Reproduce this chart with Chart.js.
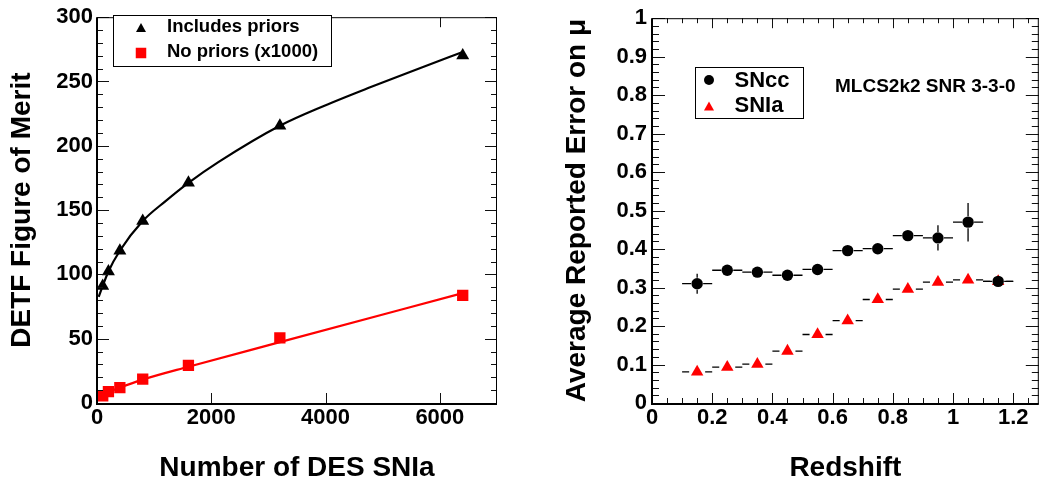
<!DOCTYPE html>
<html><head><meta charset="utf-8">
<script src="https://cdn.jsdelivr.net/npm/chart.js@4.4.0/dist/chart.umd.min.js"></script>
<style>
html,body{margin:0;padding:0;background:#fff;}
#wrap{position:relative;width:1046px;height:483px;overflow:hidden;background:#fff;}
#c1{position:absolute;left:0;top:0;}
#c2{position:absolute;left:545px;top:0;}
</style></head><body>
<div id="wrap"><canvas id="c1" width="545" height="483"></canvas><canvas id="c2" width="501" height="483"></canvas></div>
<script>
// ---------- Left panel data ----------
const nSNIa          = [100, 200, 400, 800, 1600, 3200, 6400];
const fomWithPriors  = [91.0, 102.2, 118.4, 141.5, 171.3, 215.6, 270.2];
const fomNoPriors    = [5.6, 8.8, 12.0, 18.5, 29.3, 50.6, 83.7];
const fitWithPriorsN = [30, 100, 200, 400, 800, 1200, 1600, 2130, 3200, 3970, 4780, 5660, 6400];
const fitWithPriorsY = [82.5, 91.0, 102.3, 118.4, 141.5, 157.0, 171.2, 187.5, 215.6, 231.0, 245.5, 260.5, 273.0];
const fitNoPriorsN   = [30, 100, 200, 400, 800, 1600, 3200, 6400];
const fitNoPriorsY   = [4.2, 6.0, 8.5, 12.0, 18.2, 28.2, 47.3, 85.4];
const leftXTicks     = [0, 2000, 4000, 6000];
const leftYTicks     = [0, 50, 100, 150, 200, 250, 300];
const leftLegend     = ['Includes priors', 'No priors (x1000)'];

// ---------- Right panel data ----------
const redshift     = [0.15, 0.25, 0.35, 0.45, 0.55, 0.65, 0.75, 0.85, 0.95, 1.05, 1.15];
const zHalfWidth   = [0.05, 0.05, 0.05, 0.05, 0.05, 0.05, 0.05, 0.05, 0.05, 0.05, 0.05];
const errSNcc      = [0.310, 0.345, 0.340, 0.332, 0.347, 0.396, 0.401, 0.435, 0.429, 0.470, 0.316];
const errSNccSig   = [0.026, 0.008, 0.008, 0.008, 0.008, 0.010, 0.010, 0.010, 0.033, 0.050, 0.008];
const errSNIa      = [0.081, 0.093, 0.101, 0.135, 0.178, 0.214, 0.269, 0.296, 0.314, 0.320, 0.316];
const errSNIaSig   = [0.004, 0.004, 0.004, 0.004, 0.004, 0.004, 0.004, 0.004, 0.004, 0.004, 0.004];
const rightXTicks  = [0, 0.2, 0.4, 0.6, 0.8, 1, 1.2];
const rightYTicks  = [0, 0.1, 0.2, 0.3, 0.4, 0.5, 0.6, 0.7, 0.8, 0.9, 1];
const rightLegend  = ['SNcc', 'SNIa'];
const rightLabel   = 'MLCS2k2 SNR 3-3-0';

const FAM = '"Liberation Sans", Arial, Helvetica, sans-serif';
const tickFont = {family: FAM, size: 22, weight: 'bold', lineHeight: 1.2};
const titleFont = {family: FAM, size: 28, weight: 'bold', lineHeight: 1};
const fmt = v => String(+(+v).toFixed(3));

// ROOT-style frame with inward ticks on all four sides
const rootFrame = {
  id: 'rootFrame',
  afterDatasetsDraw(chart, args, o) {
    const {ctx, chartArea: a, scales: {x, y}} = chart;
    ctx.save();
    ctx.strokeStyle = '#111';
    ctx.lineWidth = 1;
    ctx.beginPath();
    const isMaj = (v, m) => Math.abs(v / m - Math.round(v / m)) < 1e-6;
    for (let k = 0; ; k++) {
      const v = y.min + k * o.yMinor; if (v > y.max + 1e-9) break;
      const py = Math.round(y.getPixelForValue(v)) + 0.5;
      const L = isMaj(v, o.yMajor) ? o.yMajLen : o.yMinLen;
      ctx.moveTo(a.left, py); ctx.lineTo(a.left + L, py);
      ctx.moveTo(a.right, py); ctx.lineTo(a.right - L, py);
    }
    for (let k = 0; ; k++) {
      const v = x.min + k * o.xMinor; if (v > x.max + 1e-9) break;
      const px = Math.round(x.getPixelForValue(v)) + 0.5;
      const L = isMaj(v, o.xMajor) ? o.xMajLen : o.xMinLen;
      ctx.moveTo(px, a.bottom); ctx.lineTo(px, a.bottom - L);
      ctx.moveTo(px, a.top); ctx.lineTo(px, a.top + L);
    }
    ctx.stroke();
    ctx.strokeStyle = '#000';
    ctx.lineWidth = 1;
    ctx.beginPath();
    ctx.moveTo(a.left, a.top + 0.5); ctx.lineTo(a.right, a.top + 0.5);
    ctx.moveTo(a.right - 0.5, a.top); ctx.lineTo(a.right - 0.5, a.bottom);
    ctx.stroke();
    ctx.lineWidth = 2;
    ctx.beginPath();
    ctx.moveTo(a.left, a.top); ctx.lineTo(a.left, a.bottom + 1);
    ctx.lineTo(a.right, a.bottom + 1);
    ctx.stroke();
    ctx.restore();
  }
};

// Error bars (drawn under markers) with ROOT-like gap around marker
const errBars = {
  id: 'errBars',
  beforeDatasetsDraw(chart) {
    const {ctx, scales: {x, y}} = chart;
    ctx.save(); ctx.strokeStyle = '#000'; ctx.lineWidth = 1.3;
    chart.data.datasets.forEach(ds => {
      if (!ds.errY) return;
      ds.data.forEach((p, i) => {
        const px = x.getPixelForValue(p.x), py = y.getPixelForValue(p.y);
        const x0 = x.getPixelForValue(p.x - ds.errX[i]), x1 = x.getPixelForValue(p.x + ds.errX[i]);
        const y0 = y.getPixelForValue(p.y + ds.errY[i]), y1 = y.getPixelForValue(p.y - ds.errY[i]);
        const g = ds.errGap;
        ctx.beginPath();
        if (px - x0 > g) { ctx.moveTo(x0, py); ctx.lineTo(px - g, py); ctx.moveTo(px + g, py); ctx.lineTo(x1, py); }
        if (py - y0 > g) { ctx.moveTo(px, y0); ctx.lineTo(px, py - g); ctx.moveTo(px, py + g); ctx.lineTo(px, y1); }
        ctx.stroke();
      });
    });
    ctx.restore();
  }
};

function tri(ctx, cx, cy, w, color) {
  const h = w * 0.9;
  ctx.fillStyle = color; ctx.beginPath();
  ctx.moveTo(cx, cy - h / 2); ctx.lineTo(cx + w / 2, cy + h / 2); ctx.lineTo(cx - w / 2, cy + h / 2);
  ctx.closePath(); ctx.fill();
}

// In-frame legend boxes and label
const boxLegend = {
  id: 'boxLegend',
  afterDraw(chart, args, o) {
    const ctx = chart.ctx;
    ctx.save();
    const b = o.box;
    ctx.fillStyle = '#fff'; ctx.fillRect(b[0], b[1], b[2], b[3]);
    ctx.strokeStyle = '#000'; ctx.lineWidth = 1;
    ctx.strokeRect(b[0] + 0.5, b[1] + 0.5, b[2], b[3]);
    o.items.forEach(it => {
      if (it.marker === 'triangle') tri(ctx, it.mx, it.my, it.ms, it.color);
      else if (it.marker === 'rect') { ctx.fillStyle = it.color; ctx.fillRect(it.mx - it.ms / 2, it.my - it.ms / 2, it.ms, it.ms); }
      else { ctx.fillStyle = it.color; ctx.beginPath(); ctx.arc(it.mx, it.my, it.ms / 2, 0, Math.PI * 2); ctx.fill(); }
      ctx.fillStyle = '#000';
      ctx.font = 'bold ' + o.fontSize + 'px ' + FAM;
      ctx.textBaseline = 'middle'; ctx.textAlign = 'left';
      ctx.fillText(it.text, it.tx, it.ty);
    });
    if (o.extra) {
      ctx.font = 'bold ' + o.extra.size + 'px ' + FAM;
      ctx.textBaseline = 'middle';
      ctx.fillText(o.extra.text, o.extra.x, o.extra.y);
    }
    ctx.restore();
  }
};

function axis(min, max, ticksArr, title, tickPad, titlePad, fitKey, fitVal) {
  return {
    type: 'linear', min, max,
    afterFit: s => { s[fitKey] = fitVal; },
    afterBuildTicks: s => { s.ticks = ticksArr.map(v => ({value: v})); },
    grid: {display: false, drawTicks: false},
    border: {display: false},
    ticks: {padding: tickPad, font: tickFont, color: '#000', callback: fmt, maxRotation: 0, autoSkip: false},
    title: {display: true, text: title, font: titleFont, color: '#000', padding: titlePad}
  };
}

// ---------- Left chart ----------
new Chart(document.getElementById('c1'), {
  type: 'scatter',
  data: {
    datasets: [
      {label: leftLegend[0], data: nSNIa.map((n, i) => ({x: n, y: fomWithPriors[i]})),
       pointStyle: 'triangle', pointRadius: 7.5, backgroundColor: '#000', borderColor: '#000', borderWidth: 0},
      {label: leftLegend[1], data: nSNIa.map((n, i) => ({x: n, y: fomNoPriors[i]})),
       pointStyle: 'rect', pointRadius: 8, backgroundColor: '#ff0000', borderColor: '#ff0000', borderWidth: 0},
      {type: 'line', data: fitWithPriorsN.map((n, i) => ({x: n, y: fitWithPriorsY[i]})),
       borderColor: '#000', borderWidth: 2.2, pointRadius: 0, cubicInterpolationMode: 'monotone', fill: false},
      {type: 'line', data: fitNoPriorsN.map((n, i) => ({x: n, y: fitNoPriorsY[i]})),
       borderColor: '#ff0000', borderWidth: 2.2, pointRadius: 0, cubicInterpolationMode: 'monotone', fill: false}
    ]
  },
  options: {
    responsive: false, animation: false, devicePixelRatio: 1,
    layout: {padding: {left: 0, top: 15, right: 48, bottom: 0}},
    plugins: {
      legend: {display: false}, tooltip: {enabled: false},
      rootFrame: {xMinor: 2000, xMajor: 2000, yMinor: 10, yMajor: 50, xMajLen: 10, xMinLen: 5, yMajLen: 12, yMinLen: 6},
      boxLegend: {
        box: [113, 15, 218, 51], fontSize: 18.5,
        items: [
          {marker: 'triangle', mx: 141, my: 27.5, ms: 10, color: '#000', text: leftLegend[0], tx: 167, ty: 26.5},
          {marker: 'rect', mx: 141, my: 53, ms: 10.5, color: '#ff0000', text: leftLegend[1], tx: 167, ty: 52}
        ]
      }
    },
    scales: {
      x: axis(0, 7000, leftXTicks, 'Number of DES SNIa', 2, {top: 0, bottom: 1}, 'height', 80),
      y: axis(0, 300, leftYTicks, 'DETF Figure of Merit', 4, {top: 8, bottom: 0}, 'width', 97)
    }
  },
  plugins: [rootFrame, boxLegend]
});

// ---------- Right chart ----------
new Chart(document.getElementById('c2'), {
  type: 'scatter',
  data: {
    datasets: [
      {label: rightLegend[0], data: redshift.map((z, i) => ({x: z, y: errSNcc[i]})),
       errX: zHalfWidth, errY: errSNccSig, errGap: 6,
       pointStyle: 'circle', pointRadius: 5.7, backgroundColor: '#000', borderColor: '#000', borderWidth: 0},
      {label: rightLegend[1], data: redshift.map((z, i) => ({x: z, y: errSNIa[i]})),
       errX: zHalfWidth, errY: errSNIaSig, errGap: 8,
       pointStyle: 'triangle', pointRadius: 7.2, backgroundColor: '#ff0000', borderColor: '#ff0000', borderWidth: 0}
    ]
  },
  options: {
    responsive: false, animation: false, devicePixelRatio: 1,
    layout: {padding: {left: 0, top: 15, right: 1, bottom: 0}},
    plugins: {
      legend: {display: false}, tooltip: {enabled: false},
      rootFrame: {xMinor: 0.05, xMajor: 0.2, yMinor: 0.02, yMajor: 0.1, xMajLen: 10, xMinLen: 5, yMajLen: 13, yMinLen: 7},
      boxLegend: {
        box: [150, 67, 108, 51], fontSize: 22,
        items: [
          {marker: 'circle', mx: 164, my: 80, ms: 10, color: '#000', text: rightLegend[0], tx: 189.5, ty: 80.5},
          {marker: 'triangle', mx: 164, my: 106, ms: 10, color: '#ff0000', text: rightLegend[1], tx: 189.5, ty: 105.5}
        ],
        extra: {text: rightLabel, x: 290, y: 87, size: 19}
      }
    },
    scales: {
      x: axis(0, 1.285, rightXTicks, 'Redshift', 2, {top: 0, bottom: 1}, 'height', 80),
      y: axis(0, 1, rightYTicks, 'Average Reported Error on \u03bc', 5, {top: 18, bottom: 0}, 'width', 107)
    }
  },
  plugins: [errBars, rootFrame, boxLegend]
});
</script>
</body></html>
